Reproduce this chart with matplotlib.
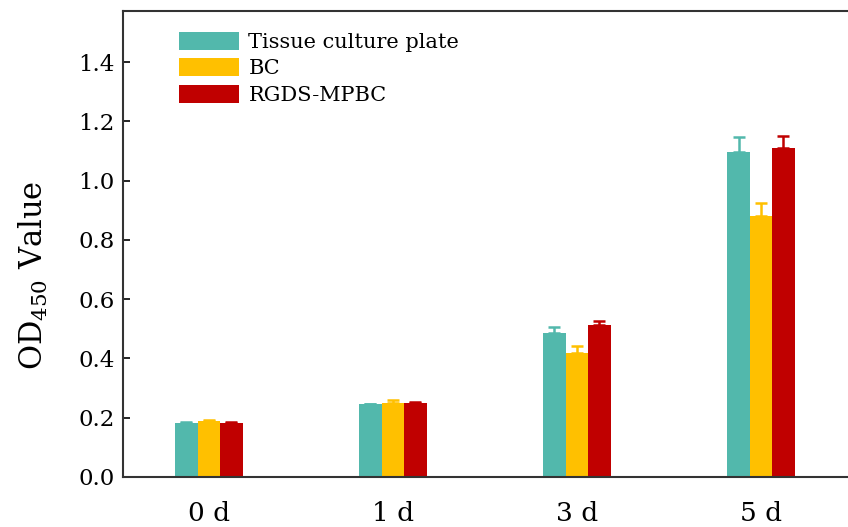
import matplotlib
matplotlib.use("Agg")
import matplotlib.pyplot as plt
import numpy as np

plt.rcParams['font.family'] = ['DejaVu Serif']
plt.rcParams['mathtext.fontset'] = 'dejavuserif'

# data
days = ["0 d", "1 d", "3 d", "5 d"]
series = ["Tissue culture plate", "BC", "RGDS-MPBC"]
tcp = [0.182, 0.245, 0.484, 1.095]
bc = [0.190, 0.248, 0.417, 0.881]
rgds = [0.183, 0.250, 0.514, 1.111]
tcp_err = [0.003, 0.002, 0.023, 0.053]
bc_err = [0.003, 0.013, 0.024, 0.043]
rgds_err = [0.003, 0.002, 0.013, 0.039]
colors = ["#52B8AC", "#FFC000", "#C00000"]

fig = plt.figure(figsize=(8.48, 5.27), dpi=100)
ax = fig.add_axes([0.145, 0.095, 0.855, 0.884])

x = np.arange(len(days))
w = 0.122
for i, (vals, errs) in enumerate(zip([tcp, bc, rgds], [tcp_err, bc_err, rgds_err])):
    pos = x + (i - 1) * w
    ax.bar(pos, vals, width=w, color=colors[i], label=series[i], zorder=2)
    ax.errorbar(pos, vals, yerr=[np.zeros(len(errs)), errs], fmt='none',
                ecolor=colors[i], elinewidth=1.8, capsize=4, capthick=1.8, zorder=1)

ax.set_xlim(-0.467, 3.473)
ax.set_ylim(0, 1.572)
ax.set_xticks(x)
ax.set_xticklabels(days, fontsize=19)
ax.set_yticks(np.arange(0, 1.41, 0.2))
ax.set_yticklabels([f"{v:.1f}" for v in np.arange(0, 1.41, 0.2)], fontsize=16.5)
ax.tick_params(axis='x', length=0, pad=17)
ax.tick_params(axis='y', direction='in', length=5, width=1.2, pad=6)
ax.set_ylabel(r'OD$_{450}$ Value', fontsize=22)
ax.yaxis.set_label_coords(-0.100, 0.433)

for s in ['left', 'bottom', 'top']:
    ax.spines[s].set_linewidth(1.5)
    ax.spines[s].set_color('#333333')
ax.spines['right'].set_visible(False)

ax.legend(loc='upper left', bbox_to_anchor=(0.048, 1.0), frameon=False, fontsize=15,
          handlelength=2.9, handleheight=0.95, labelspacing=0.3, handletextpad=0.45,
          borderaxespad=0.6)

fig.savefig("out.png", dpi=100)
